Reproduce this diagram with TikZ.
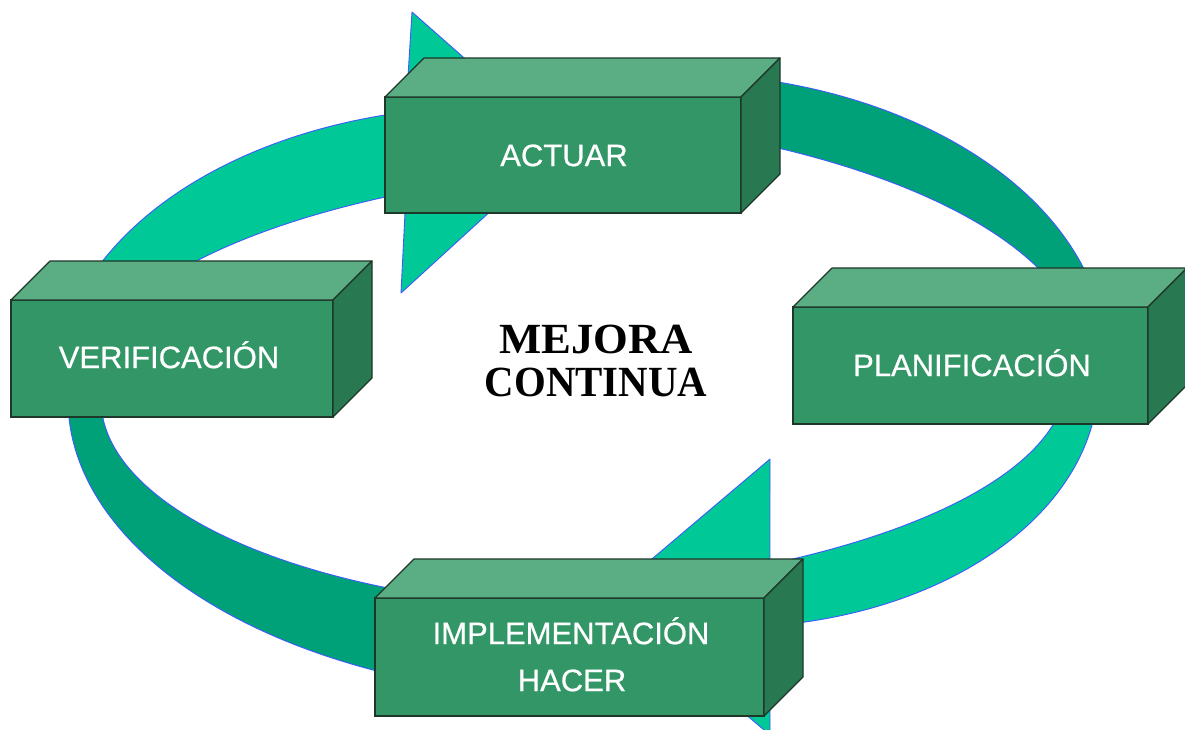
\documentclass[tikz,border=0pt]{standalone}
\usepackage{fontspec}
\usepackage{graphicx}
\setmainfont{Liberation Serif}
\newfontfamily\arialf[FakeBold=0.6]{Liberation Sans}
\definecolor{bandlight}{RGB}{0,200,150}
\definecolor{banddark}{RGB}{0,161,120}
\definecolor{bandedge}{RGB}{60,90,255}
\definecolor{boxfrontc}{RGB}{51,150,102}
\definecolor{boxtopc}{RGB}{91,173,132}
\definecolor{boxsidec}{RGB}{40,120,82}
\definecolor{boxedge}{RGB}{30,55,40}
% light arrow, top-left, head pointing right under ACTUAR
\def\arrowLA{plot[domain=178:259,samples=70,variable=\t] ({488.5+433.5*cos(\t)},{390+283.2*sin(\t)}) -- (412,12) -- (563,145) -- (401,293) -- plot[domain=240.84:178,samples=70,variable=\t] ({712+628*cos(\t)},{390+226*sin(\t)}) -- cycle}
% dark band, bottom-left
\def\tailLA{plot[domain=93.9:193.6,samples=70,variable=\t] ({596+528*cos(\t)},{400+297.9*sin(\t)}) -- plot[domain=199.5:96,samples=70,variable=\t] ({613.4+512.4*cos(\t)},{400+209.4*sin(\t)}) -- cycle}
% dark band, top-right
\def\tailRB{plot[domain=-87.4:-4,samples=70,variable=\t] ({670.2+436.4*cos(\t)},{360+286.9*sin(\t)}) -- plot[domain=-4.63:-67.67,samples=70,variable=\t] ({449+634.4*cos(\t)},{360+248*sin(\t)}) -- cycle}
% light arrow, bottom-right, head pointing left under IMPLEMENTACION
\def\arrowRB{plot[domain=-9.3:83.5,samples=70,variable=\t] ({728.3+369.9*cos(\t)},{380+247.4*sin(\t)}) -- (770,735) -- (607,597) -- (770,459) -- plot[domain=58.55:-10.68,samples=70,variable=\t] ({446.5+620*cos(\t)},{380+215.8*sin(\t)}) -- cycle}
\newcommand\cubefaces[1]{%
  \filldraw[topface] (#1.north west) -- ++(39,-39) -- ([shift={(39,-39)}]#1.north east) -- (#1.north east) -- cycle;
  \filldraw[sideface] (#1.north east) -- ++(39,-39) -- ([shift={(39,-39)}]#1.south east) -- (#1.south east) -- cycle;}
\begin{document}
\begin{tikzpicture}[x=1pt,y=-1pt,
  frontface/.style={rectangle, draw=boxedge, fill=boxfrontc, line width=1.2pt, inner sep=0pt, outer sep=0pt},
  topface/.style={draw=boxedge, fill=boxtopc, line width=1.2pt, line join=round},
  sideface/.style={draw=boxedge, fill=boxsidec, line width=1.2pt, line join=round},
  bandline/.style={draw=bandedge, line width=0.9pt, line join=round},
  boxlabel/.style={text=white, font=\arialf\fontsize{31}{37}\selectfont, inner sep=0pt, text height=22.2pt, text depth=0pt},
  titlelabel/.style={text=black, font=\bfseries\fontsize{43}{48}\selectfont, inner sep=0pt, text height=28.5pt, text depth=0pt}]
\useasboundingbox[fill=white] (0,0) rectangle (1185,729);
% ring bands and arrowheads
\filldraw[bandline, fill=banddark] \tailLA;
\filldraw[bandline, fill=banddark] \tailRB;
\filldraw[bandline, fill=bandlight] \arrowLA;
\filldraw[bandline, fill=bandlight] \arrowRB;
% boxes
\node[frontface, minimum width=356pt, minimum height=116pt] (act) at (563,155) {};
\cubefaces{act}
\node[frontface, minimum width=322pt, minimum height=117pt] (ver) at (172,358.5) {};
\cubefaces{ver}
\node[frontface, minimum width=355pt, minimum height=117pt] (pla) at (970.5,365.5) {};
\cubefaces{pla}
\node[frontface, minimum width=389pt, minimum height=118pt] (imp) at (569.5,657) {};
\cubefaces{imp}
% labels
\node[boxlabel] (actT) at (564,155) {ACTUAR};
\node[boxlabel] (verT) at (169,357) {VERIFICACIÓN};
\node[boxlabel] (plaT) at (972,365) {PLANIFICACIÓN};
\node[boxlabel] (impT) at (571,633) {IMPLEMENTACIÓN};
\node[boxlabel] (hacT) at (572,680) {HACER};
\node[titlelabel] (mejora) at (596,339) {\scalebox{1.04}[1]{MEJORA}};
\node[titlelabel] (continua) at (596,382) {\scalebox{0.95}[1]{CONTINUA}};
\end{tikzpicture}
\end{document}
